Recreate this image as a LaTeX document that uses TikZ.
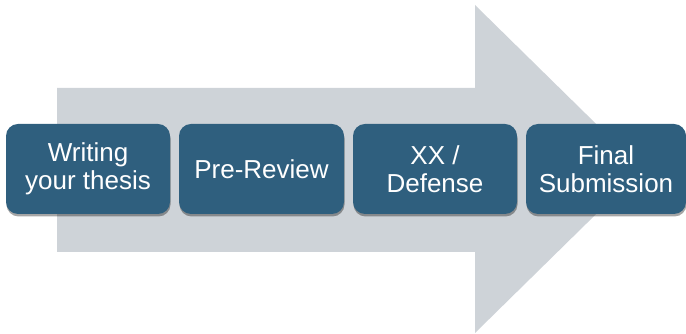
\documentclass[tikz,border=0pt]{standalone}
\usepackage{fontspec}
\setmainfont{Liberation Sans}
\usetikzlibrary{shadows}
\definecolor{boxblue}{HTML}{2F5F7E}
\definecolor{arrowgray}{HTML}{CED3D8}
\tikzset{
  stepbox/.style={draw=none, fill=boxblue, rounded corners=12pt, minimum height=90pt,
    text=white, align=center, inner sep=0pt,
    font=\fontsize{26}{28}\selectfont,
    drop shadow={shadow xshift=0.5pt, shadow yshift=-2.5pt, opacity=0.35, fill=black}},
  bigarrow/.style={fill=arrowgray, draw=none}
}
\begin{document}
\begin{tikzpicture}[x=1pt,y=1pt]
\useasboundingbox (0,0) rectangle (686,334);
\fill[bigarrow] (57,246) -- (475,246) -- (475,329) -- (642,165) -- (475,1) -- (475,82) -- (57,82) -- cycle;
\node[stepbox, minimum width=164pt] (s1) at (88,165) {Writing\\your thesis};
\node[stepbox, minimum width=165pt] (s2) at (261.5,165) {Pre-Review};
\node[stepbox, minimum width=164pt] (s3) at (435,165) {XX /\\Defense};
\node[stepbox, minimum width=160pt] (s4) at (606,165) {Final\\Submission};
\end{tikzpicture}
\end{document}
